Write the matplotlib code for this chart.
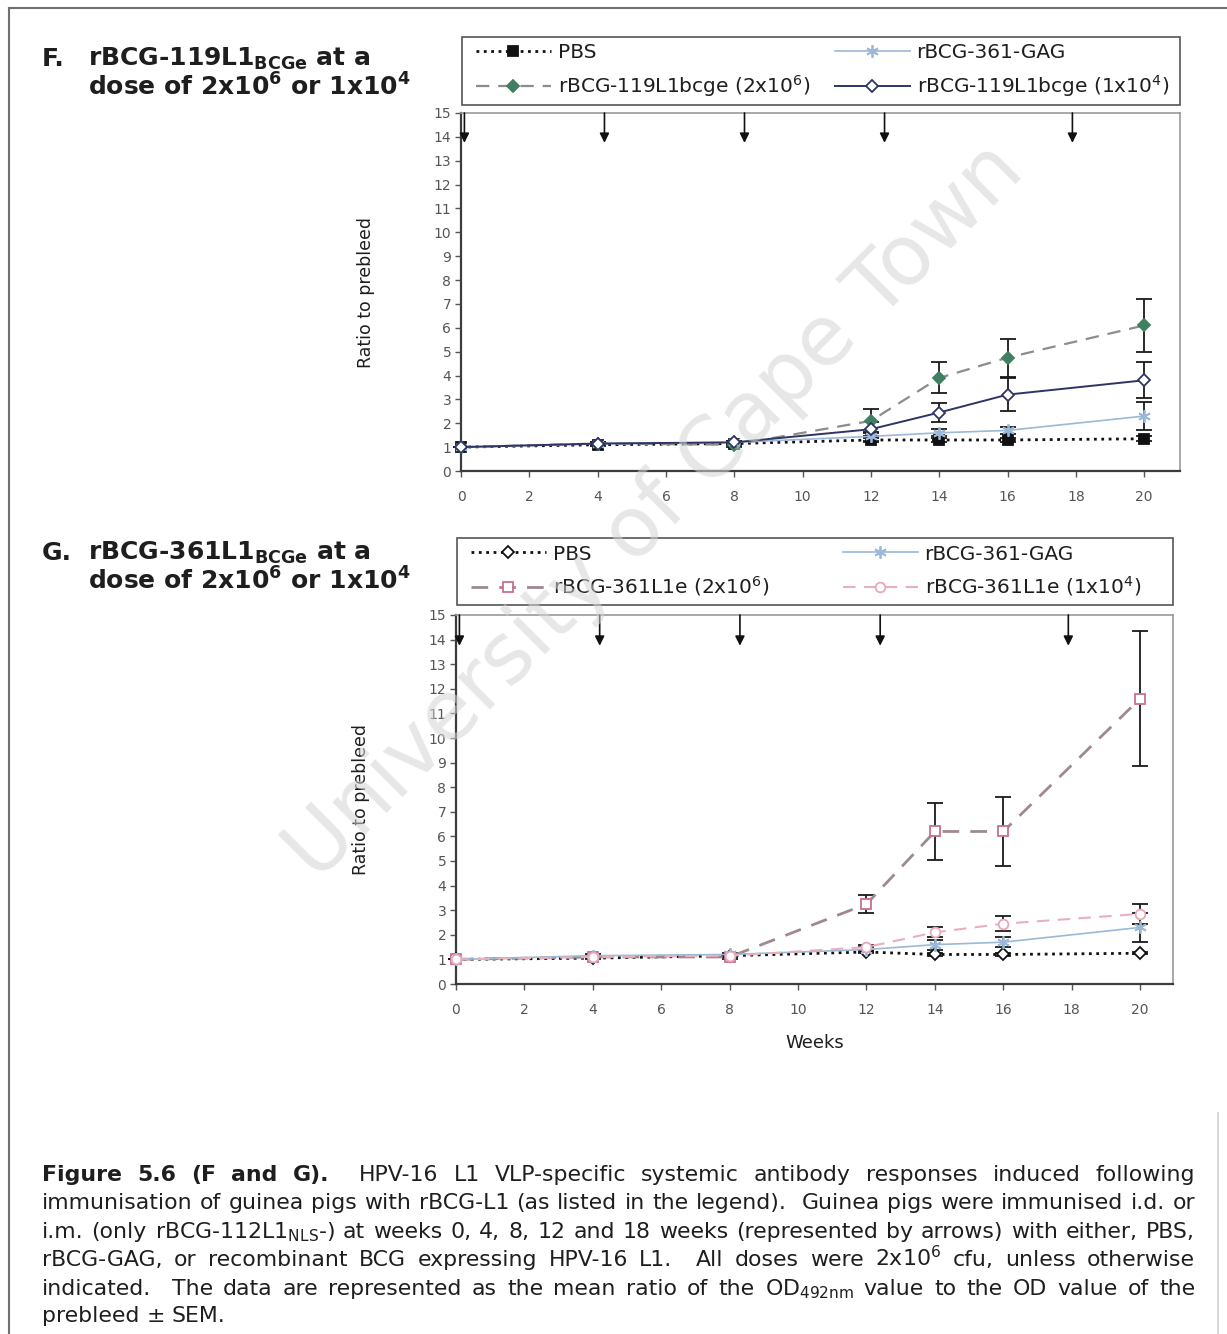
import numpy as np
import matplotlib
matplotlib.use('agg')
import matplotlib.pyplot as plt
from matplotlib.lines import Line2D
from matplotlib.patches import Rectangle

plt.rcParams['font.family'] = ['DejaVu Sans']
plt.rcParams['mathtext.default'] = 'regular'

weeks = [0, 4, 8, 12, 14, 16, 20]
boost_weeks = [0.1, 4.2, 8.3, 12.4, 17.9]

# panel F: rBCG-119L1bcge
f_pbs = [1.0, 1.1, 1.15, 1.3, 1.3, 1.3, 1.35]
f_pbs_err = [0.0, 0.05, 0.05, 0.1, 0.1, 0.1, 0.1]
f_gag = [1.0, 1.15, 1.2, 1.45, 1.6, 1.7, 2.3]
f_gag_err = [0.0, 0.05, 0.05, 0.2, 0.15, 0.15, 0.6]
f_hi = [1.0, 1.15, 1.1, 2.1, 3.9, 4.75, 6.1]
f_hi_err = [0.0, 0.05, 0.1, 0.5, 0.65, 0.8, 1.1]
f_lo = [1.0, 1.15, 1.2, 1.75, 2.45, 3.2, 3.8]
f_lo_err = [0.0, 0.05, 0.05, 0.3, 0.4, 0.7, 0.75]

# panel G: rBCG-361L1e
g_pbs = [1.0, 1.05, 1.15, 1.3, 1.2, 1.2, 1.25]
g_pbs_err = [0.0, 0.05, 0.05, 0.05, 0.05, 0.05, 0.05]
g_gag = [1.0, 1.15, 1.2, 1.4, 1.6, 1.7, 2.3]
g_gag_err = [0.0, 0.05, 0.05, 0.1, 0.2, 0.2, 0.6]
g_hi = [1.0, 1.1, 1.1, 3.25, 6.2, 6.2, 11.6]
g_hi_err = [0.0, 0.05, 0.1, 0.35, 1.15, 1.4, 2.75]
g_lo = [1.0, 1.1, 1.15, 1.5, 2.1, 2.45, 2.85]
g_lo_err = [0.0, 0.05, 0.05, 0.1, 0.2, 0.3, 0.4]

f_labels = ['PBS', 'rBCG-119L1bcge (2x10$^6$)', 'rBCG-361-GAG', 'rBCG-119L1bcge (1x10$^4$)']
g_labels = ['PBS', 'rBCG-361L1e (2x10$^6$)', 'rBCG-361-GAG', 'rBCG-361L1e (1x10$^4$)']

W, H = 1227, 1334
fig = plt.figure(figsize=(W / 100, H / 100), dpi=100)
TXT = '#1e1e1e'


def px_rect(x0, y0, x1, y1):
    return [x0 / W, 1 - y1 / H, (x1 - x0) / W, (y1 - y0) / H]


gag_marker = (6, 2, 0)


def series(ax, y, err, color, ls, lw, marker, mfc, mec, ms, dashes=None):
    ax.errorbar(weeks, y, yerr=err, fmt='none', ecolor='#1a1a1a', elinewidth=1.3,
                capsize=6, capthick=1.3, zorder=3, clip_on=False)
    kw = dict(color=color, ls=ls, lw=lw, marker=marker, mfc=mfc, mec=mec, ms=ms,
              mew=1.3, zorder=4, clip_on=False)
    if dashes is not None:
        kw['dashes'] = dashes
    line, = ax.plot(weeks, y, **kw)
    return line


def style_axes(ax, xmax):
    ax.set_xlim(0, xmax)
    ax.set_ylim(0, 15)
    ax.set_xticks(range(0, 21, 2))
    ax.set_yticks(range(0, 16))
    for s in ['top', 'right']:
        ax.spines[s].set_color('#9a9a9a')
        ax.spines[s].set_linewidth(1.2)
    for s in ['left', 'bottom']:
        ax.spines[s].set_color('#3c3c3c')
        ax.spines[s].set_linewidth(1.6)
    ax.tick_params(axis='both', labelsize=10, colors='#555555', length=4, width=1)
    ax.tick_params(axis='x', pad=10)
    ax.tick_params(axis='y', pad=3)
    ax.set_ylabel('Ratio to prebleed', fontsize=12.5, color=TXT, labelpad=42)
    for wk in boost_weeks:
        ax.annotate('', xy=(wk, 13.75), xytext=(wk, 15.0),
                    arrowprops=dict(arrowstyle='-|>', color='#111111', lw=1.2,
                                    mutation_scale=14, shrinkA=0, shrinkB=0))


def add_legend(handles, labels, box, col_x):
    x0, y0, x1, y1 = box
    yc = 1 - (y0 + y1) / 2 / H
    for col, xc in enumerate(col_x):
        leg = fig.legend(handles[2 * col:2 * col + 2], labels[2 * col:2 * col + 2],
                         loc='center left', bbox_to_anchor=(xc / W, yc), ncol=1,
                         frameon=False, fontsize=14.5, handlelength=3.7, handletextpad=0.35,
                         labelspacing=0.55, borderpad=0, borderaxespad=0)
        for t in leg.get_texts():
            t.set_color(TXT)
    fig.add_artist(Rectangle((x0 / W, 1 - y1 / H), (x1 - x0) / W, (y1 - y0) / H,
                             transform=fig.transFigure, fill=False, ec='#555555', lw=1.2))


# ---- panel F ----
axF = fig.add_axes(px_rect(461, 113, 1180, 471))
style_axes(axF, 21.05)
hF = [
    series(axF, f_pbs, f_pbs_err, '#111111', ':', 2.0, 's', '#111111', '#111111', 6.5),
    series(axF, f_hi, f_hi_err, '#8c8c8c', '--', 1.6, 'D', '#3f7f62', '#3f7f62', 6, dashes=(6, 4)),
    series(axF, f_gag, f_gag_err, '#9bb8d6', '-', 1.2, gag_marker, '#9bb8d6', '#9bb8d6', 9),
    series(axF, f_lo, f_lo_err, '#2e3564', '-', 1.4, 'D', 'white', '#2e3564', 6.5),
]
add_legend(hF, f_labels, (462, 37, 1180, 105), (476, 835))

# ---- panel G ----
axG = fig.add_axes(px_rect(456, 615, 1173, 984))
style_axes(axG, 20.96)
hG = [
    series(axG, g_pbs, g_pbs_err, '#111111', ':', 2.0, 'D', 'white', '#111111', 6),
    series(axG, g_hi, g_hi_err, '#a08890', '--', 2.0, 's', 'white', '#c8708a', 7, dashes=(6, 4)),
    series(axG, g_gag, g_gag_err, '#9bb8d6', '-', 1.2, gag_marker, '#9bb8d6', '#9bb8d6', 9),
    series(axG, g_lo, g_lo_err, '#e8b0bd', '--', 1.5, 'o', 'white', '#e8a8b8', 7, dashes=(6, 4)),
]
add_legend(hG, g_labels, (457, 538, 1173, 605), (471, 843))
axG.set_xlabel('Weeks', fontsize=13, color=TXT, labelpad=12)

# panel headings
for y0, letter, name in [(66, 'F.', '119L1'), (560, 'G.', '361L1')]:
    fig.text(42 / W, 1 - y0 / H, letter, fontsize=18, fontweight='bold', color=TXT, va='baseline')
    fig.text(88 / W, 1 - y0 / H, 'rBCG-' + name + '$_{BCGe}$ at a', fontsize=18,
             fontweight='bold', color=TXT, va='baseline')
    fig.text(88 / W, 1 - (y0 + 30) / H, 'dose of 2x10$^6$ or 1x10$^4$', fontsize=18,
             fontweight='bold', color=TXT, va='baseline')

# caption, justified between two margins
renderer = fig.canvas.get_renderer()
cap_x0, cap_x1 = 42, 1195
cap_size = 15.8
caption = [
    (1181, [('Figure 5.6 (F and G).', 'bold'),
            (' HPV-16 L1 VLP-specific systemic antibody responses induced following', 'normal')], True),
    (1209, [('immunisation of guinea pigs with rBCG-L1 (as listed in the legend).  Guinea pigs were immunised i.d. or', 'normal')], True),
    (1238, [('i.m. (only rBCG-112L1$_{NLS}$-) at weeks 0, 4, 8, 12 and 18 weeks (represented by arrows) with either, PBS,', 'normal')], True),
    (1266, [('rBCG-GAG, or recombinant BCG expressing HPV-16 L1.  All doses were 2x10$^6$ cfu, unless otherwise', 'normal')], True),
    (1295, [('indicated.  The data are represented as the mean ratio of the OD$_{492nm}$ value to the OD value of the', 'normal')], True),
    (1322, [('prebleed \u00b1 SEM.', 'normal')], False),
]
space_px = cap_size * 0.318 * 100 / 72
for ybase, parts, justify in caption:
    words, gaps = [], []
    for text, weight in parts:
        for tok in text.split(' '):
            if tok == '':
                if words:
                    gaps[-1] += 1
                continue
            words.append(fig.text(0, 1 - ybase / H, tok, fontsize=cap_size,
                                  fontweight=weight, color=TXT, va='baseline'))
            gaps.append(1)
    gaps = gaps[:-1]
    widths = [t.get_window_extent(renderer).width for t in words]
    unit = (cap_x1 - cap_x0 - sum(widths)) / sum(gaps) if justify else space_px
    x = cap_x0
    for i, t in enumerate(words):
        t.set_x(x / W)
        x += widths[i] + (gaps[i] * unit if i < len(gaps) else 0)

# page frame
fig.add_artist(Line2D([9 / W, 1], [1 - 8 / H, 1 - 8 / H], color='#707070', lw=1.5))
fig.add_artist(Line2D([9 / W, 9 / W], [0, 1 - 8 / H], color='#707070', lw=1.5))
fig.add_artist(Line2D([1218 / W, 1218 / W], [0, 1 - 1113 / H], color='#d0d0d0', lw=1.2))

# watermark
fig.text(655 / W, 1 - 512 / H, 'University of Cape Town', fontsize=60, color='#d4d4d4',
         alpha=0.55, rotation=45, rotation_mode='anchor', ha='center', va='center', zorder=20)

fig.savefig('out.png', dpi=100)
plt.close(fig)
